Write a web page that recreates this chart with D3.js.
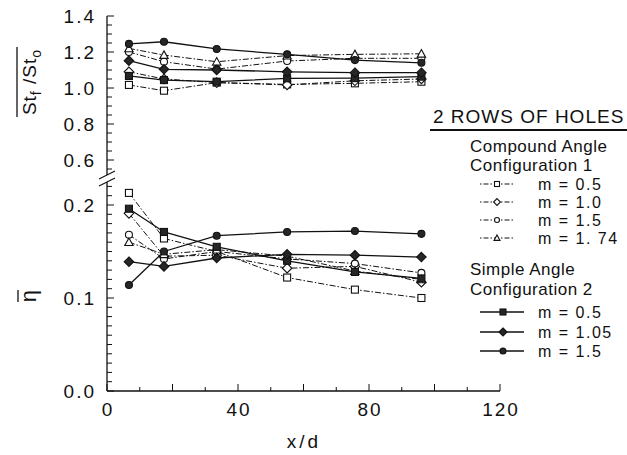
<!DOCTYPE html>
<html>
<head>
<meta charset="utf-8">
<script src="https://cdn.jsdelivr.net/npm/d3@7"></script>
<style>
  html, body { margin: 0; padding: 0; background: #fff; }
  svg { display: block; }
  text { font-family: "Liberation Sans", Arial, sans-serif; fill: #111; }
</style>
</head>
<body>
<div id="chart"></div>
<script>
// Streamwise stations (x/d)
const xd = [6.7, 17.4, 33.5, 55, 75.7, 96];

// Heat transfer ratio St_f/St_0 (upper panel)
const stC05  = [1.017, 0.985, 1.030, 1.020, 1.026, 1.035];
const stC10  = [1.090, 1.050, 1.030, 1.017, 1.040, 1.050];
const stC15  = [1.200, 1.146, 1.105, 1.150, 1.165, 1.165];
const stC174 = [1.220, 1.183, 1.146, 1.180, 1.187, 1.190];
const stS05  = [1.067, 1.044, 1.035, 1.054, 1.055, 1.063];
const stS105 = [1.152, 1.104, 1.100, 1.090, 1.085, 1.085];
const stS15  = [1.245, 1.257, 1.217, 1.187, 1.155, 1.140];

// Laterally averaged effectiveness (lower panel)
const etaC05  = [0.213, 0.164, 0.150, 0.122, 0.109, 0.100];
const etaC10  = [0.191, 0.145, 0.146, 0.132, 0.134, 0.117];
const etaC15  = [0.168, 0.142, 0.150, 0.142, 0.137, 0.127];
const etaC174 = [0.160, 0.147, 0.152, 0.145, 0.129, 0.120];
const etaS05  = [0.196, 0.171, 0.155, 0.140, 0.128, 0.121];
const etaS105 = [0.139, 0.134, 0.143, 0.147, 0.146, 0.144];
const etaS15  = [0.114, 0.150, 0.167, 0.171, 0.172, 0.169];

// Tick labels
const xTickLabels = [0, 40, 80, 120];
const stTickLabels = ["0.6", "0.8", "1.0", "1.2", "1.4"];
const etaTickLabels = ["0.0", "0.1", "0.2"];

// Legend entries
const compoundLabels = ["m = 0.5", "m = 1.0", "m = 1.5", "m = 1. 74"];
const simpleLabels = ["m = 0.5", "m = 1.05", "m = 1.5"];

const W = 627, H = 455;
const svg = d3.select("#chart").append("svg").attr("width", W).attr("height", H);

const x = d3.scaleLinear().domain([0, 120]).range([107, 500]);
const yTop = d3.scaleLinear().domain([1.0, 1.4]).range([88, 16]);
const yBot = d3.scaleLinear().domain([0, 0.2]).range([391, 205]);

const DASH = "6,2,1.5,2";

// marker painter
function marker(g, shape, cx, cy, filled, s) {
  const fill = filled ? "#262626" : "#fff";
  const sw = 1.1;
  if (shape === "square") {
    g.append("rect").attr("x", cx - s/2).attr("y", cy - s/2).attr("width", s).attr("height", s)
      .attr("fill", fill).attr("stroke", "#111").attr("stroke-width", sw);
  } else if (shape === "diamond") {
    const r = s * 0.68;
    g.append("path").attr("d", `M${cx},${cy-r}L${cx+r},${cy}L${cx},${cy+r}L${cx-r},${cy}Z`)
      .attr("fill", fill).attr("stroke", "#111").attr("stroke-width", sw);
  } else if (shape === "circle") {
    g.append("circle").attr("cx", cx).attr("cy", cy).attr("r", s/2)
      .attr("fill", fill).attr("stroke", "#111").attr("stroke-width", sw);
  } else if (shape === "triangle") {
    const r = s * 0.6;
    g.append("path").attr("d", `M${cx},${cy-r}L${cx+r},${cy+r*0.8}L${cx-r},${cy+r*0.8}Z`)
      .attr("fill", fill).attr("stroke", "#111").attr("stroke-width", sw);
  }
}

const series = [
  { st: stC05,  eta: etaC05,  shape: "square",   filled: false, dash: true },
  { st: stC10,  eta: etaC10,  shape: "diamond",  filled: false, dash: true },
  { st: stC15,  eta: etaC15,  shape: "circle",   filled: false, dash: true },
  { st: stC174, eta: etaC174, shape: "triangle", filled: false, dash: true },
  { st: stS05,  eta: etaS05,  shape: "square",   filled: true,  dash: false },
  { st: stS105, eta: etaS105, shape: "diamond",  filled: true,  dash: false },
  { st: stS15,  eta: etaS15,  shape: "circle",   filled: true,  dash: false },
];

// ---- axes ----
const axes = svg.append("g").attr("stroke", "#111").attr("fill", "none");
const x0 = x(0);
// left axis: upper and lower pieces separated by a break
axes.append("line").attr("x1", x0).attr("x2", x0).attr("y1", yTop(1.4)).attr("y2", 175).attr("stroke-width", 1.3);
axes.append("line").attr("x1", x0).attr("x2", x0).attr("y1", 182).attr("y2", yBot(0)).attr("stroke-width", 1.3);
// break marks
axes.append("line").attr("x1", x0 - 8).attr("y1", 179).attr("x2", x0 + 8).attr("y2", 171).attr("stroke-width", 1.2);
axes.append("line").attr("x1", x0 - 8).attr("y1", 186).attr("x2", x0 + 8).attr("y2", 178).attr("stroke-width", 1.2);
// bottom axis
axes.append("line").attr("x1", x0).attr("x2", x(120)).attr("y1", yBot(0)).attr("y2", yBot(0)).attr("stroke-width", 1.3);

// x ticks, pointing inward
d3.range(0, 121, 10).forEach(v => {
  const major = v % 20 === 0;
  axes.append("line").attr("x1", x(v)).attr("x2", x(v))
    .attr("y1", yBot(0)).attr("y2", yBot(0) - (major ? 7 : 4)).attr("stroke-width", 1);
});
// upper y ticks every 0.05
d3.range(0.55, 1.401, 0.05).forEach(v => {
  const major = Math.abs(v * 10 - Math.round(v * 10)) < 1e-6 && Math.round(v * 10) % 2 === 0;
  axes.append("line").attr("x1", x0).attr("x2", x0 + (major ? 7 : 5))
    .attr("y1", yTop(v)).attr("y2", yTop(v)).attr("stroke-width", 1);
});
// lower y ticks every 0.01
d3.range(0, 0.2201, 0.01).forEach((v, i) => {
  const major = i % 10 === 0;
  axes.append("line").attr("x1", x0).attr("x2", x0 + (major ? 7 : 5))
    .attr("y1", yBot(v)).attr("y2", yBot(v)).attr("stroke-width", 1);
});

// tick labels
const lab = svg.append("g").style("font-size", "19px").style("letter-spacing", "2px");
xTickLabels.forEach(v => {
  lab.append("text").attr("x", x(v) + 1).attr("y", 416).attr("text-anchor", "middle").text(v);
});
stTickLabels.forEach(t => {
  lab.append("text").attr("x", 96).attr("y", yTop(+t) + 7).attr("text-anchor", "end").text(t);
});
etaTickLabels.forEach(t => {
  lab.append("text").attr("x", 96).attr("y", yBot(+t) + 7).attr("text-anchor", "end").text(t);
});

// axis titles
svg.append("text").attr("x", 304).attr("y", 448).attr("text-anchor", "middle")
  .style("font-size", "19px").style("letter-spacing", "3px").text("x/d");

const stTitle = svg.append("g").attr("transform", "translate(36,82) rotate(-90)");
const stText = stTitle.append("text").attr("text-anchor", "middle").style("font-size", "19px").style("letter-spacing", "1px");
stText.append("tspan").text("St");
stText.append("tspan").attr("dy", 5).style("font-size", "14px").text("f");
stText.append("tspan").attr("dy", -5).text(" /St");
stText.append("tspan").attr("dy", 5).style("font-size", "14px").text("o");
const stLen = stText.node().getComputedTextLength();
stTitle.append("line").attr("x1", -stLen/2 - 2).attr("x2", stLen/2 + 2).attr("y1", -19).attr("y2", -19)
  .attr("stroke", "#111").attr("stroke-width", 1.3);

const etaTitle = svg.append("g").attr("transform", "translate(36,296) rotate(-90)");
etaTitle.append("text").attr("text-anchor", "middle").style("font-size", "22px").text("η");
etaTitle.append("line").attr("x1", -6).attr("x2", 6).attr("y1", -18).attr("y2", -18)
  .attr("stroke", "#111").attr("stroke-width", 1.3);

// ---- data ----
const plot = svg.append("g");
series.forEach(s => {
  [["st", yTop], ["eta", yBot]].forEach(([key, y]) => {
    const pts = xd.map((xv, i) => [x(xv), y(s[key][i])]);
    plot.append("path").attr("d", d3.line()(pts)).attr("fill", "none")
      .attr("stroke", "#111").attr("stroke-width", s.dash ? 1 : 1.3)
      .attr("stroke-dasharray", s.dash ? DASH : null);
  });
});
series.forEach(s => {
  [["st", yTop], ["eta", yBot]].forEach(([key, y]) => {
    xd.forEach((xv, i) => marker(plot, s.shape, x(xv), y(s[key][i]), s.filled, 7));
  });
});

// ---- legend ----
const leg = svg.append("g");
leg.append("text").attr("x", 433).attr("y", 123).style("font-size", "19px").style("letter-spacing", "1px")
  .text("2 ROWS OF HOLES");
leg.append("line").attr("x1", 430).attr("x2", 627).attr("y1", 130).attr("y2", 130)
  .attr("stroke", "#111").attr("stroke-width", 2);

const lf = "16px";
leg.append("text").attr("x", 470).attr("y", 152).style("font-size", "17px").style("letter-spacing", "0.5px").text("Compound  Angle");
leg.append("text").attr("x", 470).attr("y", 171).style("font-size", "17px").style("letter-spacing", "0.5px").text("Configuration  1");
const compRows = [184, 202, 220, 238];
compoundLabels.forEach((t, i) => {
  const cy = compRows[i];
  const s = series[i];
  leg.append("line").attr("x1", 480).attr("x2", 514).attr("y1", cy).attr("y2", cy)
    .attr("stroke", "#111").attr("stroke-width", 1).attr("stroke-dasharray", "1.5,2,5,2");
  marker(leg, s.shape, 497, cy, false, 5);
  leg.append("text").attr("x", 538).attr("y", cy + 6).style("font-size", lf).style("letter-spacing", "1.5px").text(t);
});
leg.append("text").attr("x", 470).attr("y", 275).style("font-size", "17px").style("letter-spacing", "0.5px").text("Simple  Angle");
leg.append("text").attr("x", 470).attr("y", 295).style("font-size", "17px").style("letter-spacing", "0.5px").text("Configuration  2");
const simpRows = [312, 332, 351];
simpleLabels.forEach((t, i) => {
  const cy = simpRows[i];
  const s = series[4 + i];
  leg.append("line").attr("x1", 480).attr("x2", 524).attr("y1", cy).attr("y2", cy)
    .attr("stroke", "#111").attr("stroke-width", 1.3);
  marker(leg, s.shape, 503, cy, true, 6);
  leg.append("text").attr("x", 538).attr("y", cy + 6).style("font-size", lf).style("letter-spacing", "1.5px").text(t);
});
</script>
</body>
</html>
